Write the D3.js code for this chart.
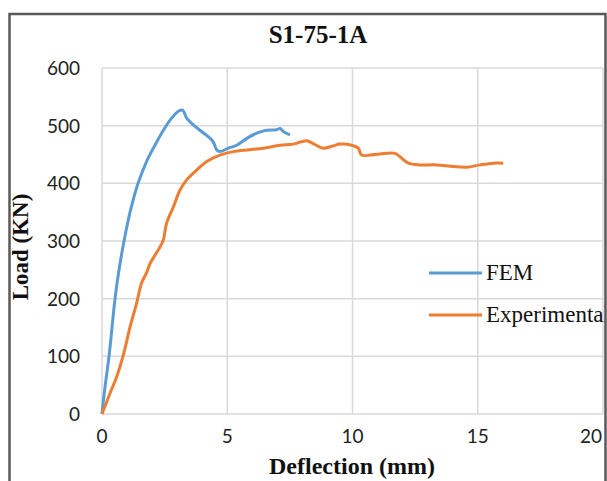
<!DOCTYPE html>
<html>
<head>
<meta charset="utf-8">
<script src="https://cdn.jsdelivr.net/npm/d3@7"></script>
<style>
  body { margin: 0; background: #fff; }
  svg { display: block; }
</style>
</head>
<body>
<div id="chart"></div>
<script>
// chart values
var seriesNames = ["FEM", "Experimental"];
var femX = [0, 0.06, 0.13, 0.28, 0.4, 0.52, 0.68, 0.88, 1.12, 1.44, 1.8, 2.1, 2.45, 2.78, 3.05, 3.22, 3.38, 3.58, 3.91, 4.24, 4.44, 4.58, 4.71, 5.04, 5.38, 5.78, 6.18, 6.57, 6.97, 7.11, 7.24, 7.5];
var femY = [0, 25, 50, 100, 150, 200, 250, 300, 350, 400, 440, 465, 492, 513, 525, 527, 513, 504, 492, 481, 472, 458, 455, 461, 466, 478, 487, 492, 493, 495, 490, 484];
var expX = [0, 0.32, 0.59, 0.85, 1.12, 1.38, 1.58, 1.78, 1.92, 2.32, 2.45, 2.58, 2.85, 3.11, 3.38, 3.78, 4.18, 4.71, 5.24, 5.78, 6.44, 7.11, 7.64, 8.17, 8.43, 8.83, 9.23, 9.5, 9.97, 10.23, 10.36, 10.7, 11.1, 11.7, 11.9, 12.23, 12.7, 13.36, 14.02, 14.56, 15.09, 15.62, 16.02];
var expY = [0, 36, 65, 102, 151, 192, 227, 245, 261, 290, 302, 331, 359, 388, 406, 423, 438, 449, 455, 458, 461, 466, 468, 474, 469, 461, 465, 468, 466, 461, 449, 449, 451, 452, 446, 435, 432, 432, 429, 428, 432, 435, 435];
var xTicks = [0, 5, 10, 15, 20];
var yTicks = [0, 100, 200, 300, 400, 500, 600];

var width = 607, height = 481,
    colors = ["#5b9bd5", "#ed7d31"],
    serif = "'Liberation Serif', 'Times New Roman', serif",
    sans = "Lato, 'Liberation Sans', sans-serif";

var svg = d3.select("#chart").append("svg")
    .attr("width", width).attr("height", height);

svg.append("clipPath").attr("id", "frameClip")
    .append("rect").attr("x", 10).attr("y", 15).attr("width", 595).attr("height", 480);

var x = d3.scaleLinear().domain([0, 20]).range([102, 603]);
var y = d3.scaleLinear().domain([0, 600]).range([414, 68]);

var g = svg.append("g").attr("clip-path", "url(#frameClip)");

// gridlines
g.selectAll(".vgrid").data(xTicks).enter().append("line")
    .attr("x1", d => x(d)).attr("x2", d => x(d))
    .attr("y1", y(600)).attr("y2", y(0))
    .style("stroke", "#d9d9d9").style("stroke-width", 1.5);
g.selectAll(".hgrid").data(yTicks).enter().append("line")
    .attr("x1", x(0)).attr("x2", x(20))
    .attr("y1", d => y(d)).attr("y2", d => y(d))
    .style("stroke", "#d9d9d9").style("stroke-width", 1.5);

// tick labels
g.selectAll(".ylab").data(yTicks).enter().append("text")
    .attr("x", 80).attr("y", d => y(d) + 7)
    .attr("text-anchor", "end")
    .style("font-family", sans)
    .style("font-size", "19px").style("fill", "#222")
    .text(d => d);
g.selectAll(".xlab").data(xTicks).enter().append("text")
    .attr("x", (d, i) => i === xTicks.length - 1 ? x(d) - 12 : x(d)).attr("y", 443)
    .attr("text-anchor", "middle")
    .style("font-family", sans)
    .style("font-size", "19px").style("fill", "#222")
    .text(d => d);

// curves
var line = d3.line().x(d => x(d[0])).y(d => y(d[1])).curve(d3.curveCatmullRom);
var fem = femX.map((v, i) => [v, femY[i]]);
var exp = expX.map((v, i) => [v, expY[i]]);
[fem, exp].forEach(function (data, i) {
    g.append("path").datum(data)
        .attr("d", line)
        .style("fill", "none")
        .style("stroke", colors[i])
        .style("stroke-width", 3)
        .style("stroke-linejoin", "round");
});

// legend
var legY = [273, 315];
seriesNames.forEach(function (name, i) {
    g.append("line")
        .attr("x1", 429).attr("x2", 482)
        .attr("y1", legY[i]).attr("y2", legY[i])
        .style("stroke", colors[i]).style("stroke-width", 3);
    g.append("text")
        .attr("x", 486).attr("y", legY[i] + 7)
        .style("font-family", serif)
        .style("font-size", "23px").style("fill", "#111")
        .text(name);
});

// titles
g.append("text")
    .attr("x", 318).attr("y", 43)
    .attr("text-anchor", "middle")
    .style("font-family", serif)
    .style("font-weight", "bold").style("font-size", "25px").style("fill", "#111")
    .text("S1-75-1A");
g.append("text")
    .attr("x", 352).attr("y", 474)
    .attr("text-anchor", "middle")
    .style("font-family", serif)
    .style("font-weight", "bold").style("font-size", "24px").style("fill", "#111")
    .text("Deflection (mm)");
g.append("text")
    .attr("transform", "translate(28,247)rotate(-90)")
    .attr("text-anchor", "middle")
    .style("font-family", serif)
    .style("font-weight", "bold").style("font-size", "23px").style("fill", "#111")
    .text("Load (KN)");

// outer frame
svg.append("rect")
    .attr("x", 9.5).attr("y", 14).attr("width", 596).attr("height", 490)
    .style("fill", "none").style("stroke", "#595959").style("stroke-width", 2.5);
</script>
</body>
</html>
